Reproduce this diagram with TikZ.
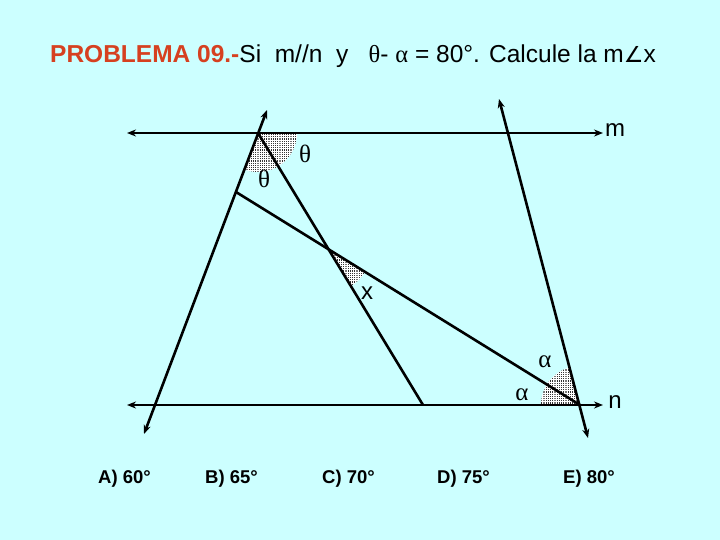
\documentclass[tikz,border=0pt]{standalone}
\usepackage{fontspec}
\setmainfont{Liberation Sans}
\newfontfamily\grk{Liberation Serif}
\newfontfamily\djv{DejaVu Sans}
\usetikzlibrary{arrows.meta,patterns,calc}
\definecolor{bgcyan}{RGB}{204,255,255}
\definecolor{titlered}{RGB}{214,64,32}
\pgfdeclarepatternformonly{finedots}{\pgfpointorigin}{\pgfqpoint{1.2pt}{1.2pt}}{\pgfqpoint{2.2pt}{2.2pt}}%
  {\pgfpathrectangle{\pgfpointorigin}{\pgfqpoint{1.2pt}{1.2pt}}\pgfusepath{fill}}
\tikzset{
  ln/.style={line width=2.6pt,black},
  arrb/.style={ln,{Stealth[length=9pt,width=7pt]}-{Stealth[length=9pt,width=7pt]}},
  shade/.style={fill=white,postaction={pattern=finedots,pattern color=black!80}},
  lbl/.style={font=\fontsize{24}{24}\selectfont,inner sep=0pt},
  greek/.style={font=\grk\fontsize{25}{25}\selectfont,inner sep=0pt},
  ans/.style={font=\fontsize{18.5}{18.5}\selectfont\bfseries,inner sep=0pt,anchor=base west}
}
\begin{document}
\begin{tikzpicture}[x=1pt,y=1pt]
\fill[bgcyan] (0,0) rectangle (720,-540);
\useasboundingbox (0,0) rectangle (720,-540);
% key points
\coordinate (A) at (258,-133);
\coordinate (L1) at (267,-110);
\coordinate (L2) at (144,-434);
\coordinate (P) at (236,-192);
\coordinate (M) at (423,-405);
\coordinate (R) at (580,-405);
\coordinate (R1) at (499,-99);
\coordinate (R2) at (588,-438);
\coordinate (mL) at (127,-133);
\coordinate (mR) at (603,-133);
\coordinate (nL) at (127,-405);
\coordinate (nR) at (603,-405);
\coordinate (C) at (intersection of A--M and P--R);
% shaded angles
\fill[shade] (A) -- ++(-110.75:39) arc[start angle=-110.75,end angle=0,radius=39] -- cycle;
\fill[shade] (C) -- ++(-58.75:43) arc[start angle=-58.75,end angle=-31.77,radius=43] -- cycle;
\fill[shade] (R) -- ++(104.83:39) arc[start angle=104.83,end angle=180,radius=39] -- cycle;
% lines
\draw[arrb] (mL) -- (mR);
\draw[arrb] (nL) -- (nR);
\draw[arrb] (L2) -- (L1);
\draw[arrb] (R2) -- (R1);
\draw[ln] (A) -- (M);
\draw[ln] (P) -- (R);
% labels
\node[lbl] (lm) at (615,-130) {m};
\node[lbl] (ln) at (615,-402) {n};
\node[lbl] (lx) at (367,-293) {x};
\node[greek] (t1) at (305,-154) {θ};
\node[greek] (t2) at (264,-179) {θ};
\node[greek] (a1) at (545,-362) {α};
\node[greek] (a2) at (522,-395) {α};
% title
\node[anchor=base west,inner sep=0pt,font=\fontsize{24.5}{24.5}\selectfont] (title) at (50,-63)
  {{\bfseries\color{titlered}PROBLEMA 09.-}Si\ \ m//n\ \ y\ \ \ {\grk θ}- {\grk α} = 80°. Calcule la m{\djv\fontsize{22}{22}\selectfont ∠}x};
% answers
\node[ans] (oa) at (98,-483) {A) 60°};
\node[ans] (ob) at (205,-483) {B) 65°};
\node[ans] (oc) at (322,-483) {C) 70°};
\node[ans] (od) at (437,-483) {D) 75°};
\node[ans] (oe) at (563,-483) {E) 80°};
\end{tikzpicture}
\end{document}
